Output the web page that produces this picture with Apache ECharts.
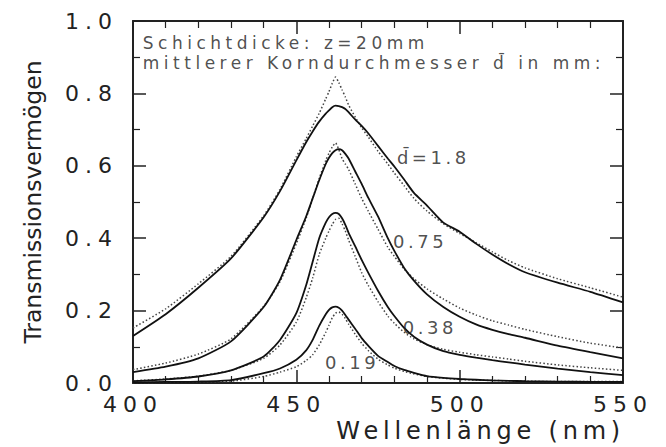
<!DOCTYPE html>
<html>
<head>
<meta charset="utf-8">
<script src="https://cdn.jsdelivr.net/npm/echarts@6.0.0/dist/echarts.min.js"></script>
<style>
  html, body { margin: 0; padding: 0; background: #fff; }
  #chart { width: 666px; height: 447px; }
  #chart text[style*="22px"] { letter-spacing: 6px; }
  #chart text[style*="24px"] { letter-spacing: 4.8px; }
  #chart text[style*="17px"] { letter-spacing: 4.5px; }
  #chart text[style*="18px"] { letter-spacing: 3.5px; }
</style>
</head>
<body>
<div id="chart"></div>
<script>
// wavelength grid (nm)
const wavelengths = [400,410,420,430,440,445,450,453,455,457,459,460,461,462,463,464,465,466,468,470,472,475,478,480,483,486,490,495,500,505,510,515,520,530,540,550];

// d = 1.8 mm
const solid18  = [0.13,0.19,0.263,0.344,0.458,0.53,0.615,0.665,0.695,0.722,0.744,0.753,0.762,0.766,0.765,0.762,0.757,0.748,0.728,0.71,0.69,0.655,0.62,0.598,0.562,0.525,0.49,0.443,0.418,0.385,0.355,0.328,0.306,0.277,0.252,0.223];
const dotted18 = [0.152,0.205,0.274,0.35,0.462,0.535,0.625,0.675,0.71,0.745,0.785,0.805,0.828,0.845,0.83,0.81,0.79,0.768,0.735,0.705,0.68,0.64,0.605,0.58,0.545,0.51,0.475,0.44,0.413,0.388,0.362,0.338,0.318,0.288,0.263,0.237];
// d = 0.75 mm
const solid75  = [0.03,0.045,0.068,0.115,0.21,0.285,0.395,0.46,0.51,0.56,0.605,0.622,0.635,0.643,0.646,0.643,0.633,0.62,0.585,0.55,0.512,0.46,0.4,0.365,0.318,0.283,0.245,0.21,0.183,0.162,0.147,0.135,0.125,0.103,0.085,0.068];
const dotted75 = [0.037,0.055,0.08,0.122,0.212,0.28,0.385,0.455,0.51,0.565,0.615,0.635,0.652,0.663,0.645,0.62,0.605,0.59,0.55,0.51,0.475,0.425,0.375,0.35,0.315,0.288,0.26,0.232,0.207,0.188,0.172,0.16,0.148,0.128,0.11,0.097];
// d = 0.38 mm
const solid38  = [0.005,0.01,0.018,0.035,0.073,0.119,0.193,0.27,0.335,0.4,0.443,0.458,0.467,0.47,0.467,0.455,0.437,0.415,0.378,0.34,0.305,0.255,0.21,0.185,0.152,0.128,0.106,0.088,0.078,0.07,0.063,0.057,0.051,0.04,0.03,0.022];
const dotted38 = [0.006,0.011,0.019,0.035,0.068,0.105,0.168,0.235,0.29,0.355,0.4,0.42,0.438,0.452,0.455,0.44,0.42,0.395,0.35,0.305,0.27,0.225,0.185,0.165,0.14,0.122,0.106,0.093,0.085,0.078,0.072,0.066,0.06,0.05,0.042,0.035];
// d = 0.19 mm
const solid19  = [0.002,0.003,0.004,0.008,0.027,0.04,0.064,0.09,0.119,0.158,0.19,0.202,0.209,0.211,0.208,0.2,0.188,0.175,0.15,0.124,0.103,0.075,0.058,0.047,0.036,0.028,0.019,0.014,0.011,0.009,0.007,0.006,0.005,0.004,0.003,0.003];
const dotted19 = [0.001,0.002,0.003,0.005,0.018,0.03,0.045,0.062,0.078,0.105,0.14,0.16,0.18,0.193,0.196,0.19,0.178,0.163,0.135,0.11,0.09,0.066,0.05,0.041,0.032,0.025,0.018,0.013,0.01,0.008,0.007,0.006,0.005,0.004,0.004,0.004];

// annotations (text, anchor wavelength, anchor transmission)
const annoText = ['Schichtdicke: z=20mm', 'mittlerer Korndurchmesser d\u0304 in mm:', 'd\u0304=1.8', '0.75', '0.38', '0.19'];
const annoX = [403, 403, 480.8, 479.6, 482.6, 458.8];
const annoY = [0.939, 0.884, 0.624, 0.39, 0.152, 0.058];

const xTicks = { min: 400, max: 550, interval: 50 };
const yTicks = { min: 0, max: 1, interval: 0.2 };

const pair = (ys) => wavelengths.map((x, i) => [x, ys[i]]);

const FONT = 'DejaVu Sans';
const TXT = '#222';

function solidSeries(ys) {
  return { type: 'line', data: pair(ys), showSymbol: false, symbol: 'none', smooth: 0.2,
    lineStyle: { color: '#111', width: 1.8, type: 'solid' }, z: 3, silent: true };
}
function dottedSeries(ys) {
  return { type: 'line', data: pair(ys), showSymbol: false, symbol: 'none', smooth: 0.2,
    lineStyle: { color: '#444', width: 1.5, type: [1.5, 2.2] }, z: 2, silent: true };
}

const annoFont = [17, 17, 18, 18, 18, 18];

const chart = echarts.init(document.getElementById('chart'), null, { renderer: 'svg', width: 666, height: 447 });

const axisCommon = {
  type: 'value',
  axisLine: { show: true, onZero: false, lineStyle: { color: '#222', width: 2 } },
  axisTick: { show: true, inside: true, length: 13, lineStyle: { color: '#222', width: 1.5 } },
  minorTick: { show: true, length: 7, lineStyle: { color: '#222', width: 1.2 } },
  splitLine: { show: false },
  minorSplitLine: { show: false }
};

chart.setOption({
  animation: false,
  backgroundColor: '#fff',
  grid: { left: 133, right: 43, top: 21, bottom: 64, containLabel: false, outerBoundsMode: 'none' },
  xAxis: [
    Object.assign({}, axisCommon, {
      position: 'bottom', min: xTicks.min, max: xTicks.max, interval: xTicks.interval,
      minorTick: Object.assign({}, axisCommon.minorTick, { splitNumber: 5 }),
      axisLabel: { show: true, fontSize: 22, fontFamily: FONT, color: TXT, margin: 10 },
      name: 'Wellenlänge (nm)', nameLocation: 'end', nameGap: 2, nameMoveOverlap: false,
      nameTextStyle: { fontSize: 24, fontFamily: FONT, color: TXT, align: 'right', verticalAlign: 'top', padding: [36, 0, 0, 0] }
    }),
    Object.assign({}, axisCommon, {
      position: 'top', min: xTicks.min, max: xTicks.max, interval: xTicks.interval,
      minorTick: Object.assign({}, axisCommon.minorTick, { splitNumber: 5 }),
      axisLabel: { show: false }
    })
  ],
  yAxis: [
    Object.assign({}, axisCommon, {
      position: 'left', min: yTicks.min, max: yTicks.max, interval: yTicks.interval,
      minorTick: Object.assign({}, axisCommon.minorTick, { splitNumber: 2 }),
      axisLabel: { show: true, fontSize: 22, fontFamily: FONT, color: TXT, margin: 15, formatter: v => v.toFixed(1) },
      name: 'Transmissionsvermögen', nameLocation: 'middle', nameGap: 88, nameRotate: 90, nameMoveOverlap: false,
      nameTextStyle: { fontSize: 23.5, fontFamily: FONT, color: TXT }
    }),
    Object.assign({}, axisCommon, {
      position: 'right', min: yTicks.min, max: yTicks.max, interval: yTicks.interval,
      minorTick: Object.assign({}, axisCommon.minorTick, { splitNumber: 2 }),
      axisLabel: { show: false }
    })
  ],
  series: [
    solidSeries(solid18), dottedSeries(dotted18),
    solidSeries(solid75), dottedSeries(dotted75),
    solidSeries(solid38), dottedSeries(dotted38),
    solidSeries(solid19), dottedSeries(dotted19),
    {
      type: 'scatter', symbolSize: 0, silent: true, z: 10,
      data: annoText.map((t, i) => ({
        value: [annoX[i], annoY[i]], name: t,
        label: { fontSize: annoFont[i] }
      })),
      label: { show: true, position: 'right', distance: 0, formatter: '{b}', fontFamily: FONT, color: TXT }
    }
  ]
});
</script>
</body>
</html>
